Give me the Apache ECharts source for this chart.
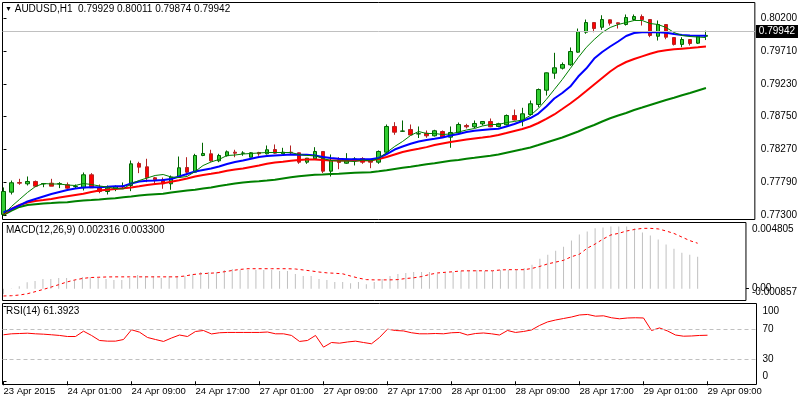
<!DOCTYPE html>
<html><head><meta charset="utf-8">
<script src="https://cdn.jsdelivr.net/npm/echarts@6/dist/echarts.min.js"></script>
<style>html,body{margin:0;padding:0;background:#fff}#c{width:800px;height:400px}</style>
</head><body><div id="c"></div>
<script>
// ---------- data ----------
const symbolName = 'AUDUSD,H1';
const tickBars = [0, 8, 16, 24, 32, 40, 48, 56, 64, 72, 80, 88];
const tickLabels = ['23 Apr 2015', '24 Apr 01:00', '24 Apr 09:00', '24 Apr 17:00', '27 Apr 01:00', '27 Apr 09:00',
  '27 Apr 17:00', '28 Apr 01:00', '28 Apr 09:00', '28 Apr 17:00', '29 Apr 01:00', '29 Apr 09:00'];

const open = [0.77315,0.77642,0.77784,0.77765,0.77799,0.77762,0.77774,0.77762,0.7775,0.77723,
  0.77706,0.77897,0.77706,0.77652,0.77692,0.77728,0.7774,0.78063,0.78014,0.77853,
  0.77824,0.77765,0.77862,0.78004,0.77935,0.7818,0.78205,0.78102,0.78176,0.78229,
  0.78212,0.78155,0.78224,0.78205,0.78268,0.78205,0.78229,0.7822,0.78082,0.78132,
  0.78239,0.7795,0.78117,0.78067,0.78124,0.78136,0.78107,0.78082,0.78229,0.78606,
  0.78535,0.78562,0.78496,0.78507,0.78469,0.78532,0.78449,0.78513,0.7862,0.78601,
  0.78645,0.78679,0.78606,0.78631,0.78767,0.78689,0.78782,0.78928,0.79138,0.79388,
  0.79461,0.79511,0.79696,0.79989,0.80131,0.80062,0.80171,0.80127,0.80102,0.80175,
  0.80219,0.80175,0.7993,0.80102,0.79911,0.7981,0.79882,0.79828,0.79929];
const high = [0.77711,0.77813,0.77838,0.77872,0.77813,0.77774,0.77838,0.77789,0.77784,0.77755,
  0.77931,0.77921,0.77755,0.7774,0.7774,0.77784,0.78107,0.78088,0.78132,0.77865,
  0.77857,0.77887,0.78165,0.78155,0.78205,0.78367,0.78264,0.78205,0.78254,0.78264,
  0.78243,0.78229,0.78234,0.78327,0.78342,0.78293,0.78327,0.78224,0.78144,0.78302,
  0.78239,0.78195,0.78155,0.78214,0.78155,0.78155,0.78132,0.78254,0.78635,0.78669,
  0.78694,0.78635,0.78606,0.78547,0.78557,0.78547,0.78606,0.78664,0.78645,0.78694,
  0.78684,0.78723,0.7866,0.78782,0.78855,0.7888,0.78987,0.79163,0.79398,0.79687,
  0.79545,0.79765,0.80043,0.80175,0.80139,0.80238,0.80175,0.80131,0.80249,0.80249,
  0.80249,0.80183,0.80161,0.80109,0.79918,0.79916,0.79889,0.79945,0.80011];
const low = [0.77295,0.77608,0.7775,0.7774,0.77715,0.77715,0.7773,0.77701,0.77692,0.77692,
  0.77667,0.77706,0.77627,0.77608,0.77657,0.77701,0.77657,0.77921,0.77789,0.77765,
  0.77692,0.77677,0.7785,0.77887,0.77926,0.7817,0.78088,0.78082,0.78165,0.78155,
  0.78176,0.78155,0.78176,0.78195,0.78205,0.78195,0.78195,0.78058,0.78058,0.78132,
  0.77921,0.77872,0.77979,0.78058,0.78034,0.78058,0.77994,0.78058,0.78205,0.78484,
  0.78525,0.78481,0.78437,0.7844,0.78459,0.7844,0.78293,0.78503,0.78576,0.78581,
  0.7862,0.78595,0.78595,0.7862,0.78694,0.7861,0.78767,0.78889,0.7906,0.79305,
  0.79442,0.79496,0.79687,0.79966,0.79989,0.80024,0.80087,0.80043,0.80087,0.80161,
  0.80087,0.79916,0.79867,0.79886,0.79794,0.79769,0.79794,0.79816,0.79874];
const close = [0.77652,0.7778,0.77774,0.77799,0.7773,0.77769,0.7773,0.77767,0.77701,0.77728,
  0.77897,0.77706,0.77652,0.77701,0.77721,0.77733,0.78058,0.78009,0.77853,0.77824,
  0.77765,0.77862,0.78,0.77935,0.7818,0.7821,0.78102,0.7818,0.78234,0.78214,
  0.78217,0.7822,0.78205,0.78264,0.78214,0.78229,0.7822,0.78082,0.78141,0.78239,
  0.7795,0.78107,0.78078,0.78126,0.78129,0.78082,0.78082,0.78239,0.78606,0.78522,
  0.7854,0.78481,0.785,0.78469,0.78543,0.78449,0.78518,0.78635,0.78601,0.7865,
  0.78679,0.78601,0.78647,0.78767,0.78701,0.78792,0.78939,0.79148,0.79393,0.79467,
  0.79515,0.79706,0.79999,0.80131,0.80043,0.80175,0.80121,0.80112,0.80205,0.80219,
  0.80171,0.79941,0.80102,0.79916,0.7981,0.79882,0.79823,0.7993,0.79942];

const maFast = [0.77315,0.77432,0.77535,0.77637,0.77725,0.77769,0.77762,0.77762,0.77747,0.7774,
  0.77769,0.77755,0.77733,0.77718,0.77696,0.77689,0.77769,0.77813,0.7785,0.77887,
  0.77901,0.77865,0.77857,0.77872,0.77945,0.78033,0.78085,0.78122,0.7818,0.78187,
  0.78202,0.7821,0.78217,0.78224,0.78224,0.78224,0.78224,0.78195,0.7818,0.7818,
  0.78136,0.78107,0.781,0.781,0.78092,0.78114,0.781,0.78136,0.78224,0.78312,
  0.78386,0.78474,0.78532,0.78503,0.78503,0.78488,0.78496,0.78525,0.78554,0.78576,
  0.78613,0.78635,0.78635,0.78664,0.78679,0.78701,0.78767,0.7887,0.79002,0.79148,
  0.79295,0.79456,0.79618,0.79765,0.79882,0.79985,0.80058,0.80102,0.80131,0.80161,
  0.80161,0.80117,0.80102,0.80058,0.79985,0.79941,0.79926,0.79918,0.79911];
const maBlue = [0.77344,0.77395,0.77447,0.77505,0.77542,0.77579,0.77615,0.77645,0.77674,0.77696,
  0.77711,0.77715,0.77715,0.77721,0.77728,0.7773,0.77769,0.77799,0.7781,0.77813,
  0.77821,0.77835,0.77872,0.77909,0.77945,0.77967,0.77989,0.78019,0.78055,0.78085,
  0.78107,0.78133,0.78158,0.78173,0.7818,0.78187,0.78195,0.7819,0.7819,0.7818,
  0.78158,0.78144,0.78132,0.78126,0.78126,0.78126,0.78126,0.78144,0.78202,0.78268,
  0.78312,0.78352,0.78386,0.78408,0.78425,0.78444,0.78474,0.78496,0.78525,0.78543,
  0.78554,0.78565,0.78572,0.78606,0.78642,0.78686,0.7873,0.78796,0.78899,0.79016,
  0.79097,0.79192,0.79339,0.79456,0.79603,0.79699,0.79779,0.79853,0.79933,0.79977,
  0.79989,0.79989,0.79989,0.7998,0.79963,0.79948,0.79941,0.79936,0.79936];
const maRed = [0.77325,0.77395,0.77454,0.77491,0.77513,0.77527,0.77542,0.77564,0.77583,0.77601,
  0.77618,0.77645,0.77667,0.77677,0.77689,0.777,0.77711,0.77728,0.77747,0.77762,
  0.77774,0.77794,0.77816,0.77843,0.77872,0.77894,0.77912,0.77931,0.77956,0.77975,
  0.77989,0.78011,0.78033,0.78058,0.78078,0.78089,0.78102,0.78114,0.78122,0.78122,
  0.78114,0.78107,0.78107,0.78107,0.78107,0.78107,0.7811,0.78129,0.78158,0.78195,
  0.78232,0.78256,0.78278,0.78303,0.78334,0.78356,0.78378,0.78397,0.78415,0.7843,
  0.78444,0.78459,0.78481,0.7851,0.7854,0.78569,0.78606,0.78657,0.78716,0.78782,
  0.78862,0.78943,0.79031,0.79126,0.79222,0.79317,0.79412,0.79493,0.79552,0.79596,
  0.79635,0.79674,0.79706,0.79725,0.79738,0.79747,0.79756,0.79767,0.79779];
const maSlow = [0.7731,0.77373,0.77425,0.77454,0.77466,0.77476,0.77483,0.77491,0.77495,0.77508,
  0.7752,0.77527,0.77535,0.77545,0.77554,0.77567,0.77579,0.77593,0.77604,0.77611,
  0.77618,0.77637,0.77652,0.77667,0.77677,0.77696,0.77711,0.77733,0.7775,0.77769,
  0.77784,0.77794,0.77803,0.77813,0.77824,0.77843,0.7786,0.77877,0.77887,0.77897,
  0.77901,0.77909,0.77912,0.77919,0.77926,0.77931,0.77935,0.77948,0.77963,0.77982,
  0.78,0.78016,0.78033,0.78051,0.78066,0.78085,0.78102,0.78114,0.78132,0.78146,
  0.78161,0.78176,0.78195,0.78221,0.78246,0.78271,0.78298,0.78334,0.78371,0.78408,
  0.78444,0.78488,0.78532,0.78584,0.78628,0.78679,0.78727,0.78767,0.78804,0.78848,
  0.78884,0.78921,0.78958,0.78994,0.79027,0.79063,0.79097,0.79134,0.7917];

const macdMain = [-0.00041,0.00001,0.00018,0.00046,0.00055,0.0007,0.0007,0.00077,0.00077,0.00063,
  0.00085,0.00085,0.00077,0.0007,0.00063,0.00063,0.00077,0.00099,0.00092,0.00092,
  0.00077,0.00092,0.00092,0.00092,0.00107,0.00121,0.00121,0.00121,0.00136,0.00143,
  0.00136,0.00136,0.00136,0.00136,0.00136,0.00129,0.00129,0.00107,0.00092,0.00092,
  0.0007,0.00063,0.00048,0.00048,0.0004,0.00048,0.00033,0.00048,0.0007,0.00092,
  0.00107,0.00114,0.00121,0.00121,0.00121,0.00107,0.00114,0.00121,0.00129,0.00129,
  0.00136,0.00129,0.00129,0.00136,0.00136,0.00136,0.00151,0.00173,0.00217,0.00246,
  0.00276,0.00305,0.00349,0.00393,0.00415,0.00438,0.00445,0.00452,0.00452,0.00452,
  0.00438,0.00408,0.00386,0.00357,0.0032,0.0029,0.00261,0.00246,0.002316];
const macdSignal = [-0.00053,-0.00051,-0.00046,-0.00037,-0.00022,-0.00006,0.00011,0.00029,0.00048,0.00063,
  0.00074,0.00081,0.00083,0.00085,0.00086,0.00086,0.00086,0.00086,0.00086,0.00086,
  0.00086,0.00086,0.00086,0.00092,0.00103,0.00108,0.00112,0.00115,0.00123,0.00132,
  0.0014,0.00145,0.00145,0.00145,0.00145,0.00145,0.00145,0.00143,0.00136,0.00129,
  0.00121,0.00115,0.00112,0.00108,0.00092,0.00077,0.00066,0.00064,0.00064,0.00064,
  0.00066,0.00074,0.00079,0.00088,0.00103,0.00114,0.00119,0.00123,0.00129,0.0013,
  0.0013,0.0013,0.0013,0.00136,0.00138,0.00138,0.00138,0.00147,0.00162,0.0018,
  0.00193,0.00206,0.00232,0.0025,0.00294,0.00324,0.0036,0.0039,0.00402,0.00419,
  0.0043,0.00438,0.00438,0.00434,0.00419,0.00401,0.00375,0.00349,0.0033];

const rsi = [62.0,63.3,63.7,64.1,63.3,62.8,62.0,61.1,59.7,59.7,
  66.8,61.1,54.4,53.5,53.5,55.7,68.7,65.5,58.4,55.7,
  53.1,57.7,61.7,59.7,66.4,67.7,63.1,64.7,65.1,65.1,
  65.1,65.1,65.1,65.7,63.3,63.3,61.1,53.1,54.4,61.1,
  45.5,51.7,50.8,52.4,53.5,51.7,50.0,58.4,69.5,67.7,
  67.1,64.7,63.3,63.3,63.7,63.3,64.7,65.1,61.7,63.7,
  64.4,63.3,61.7,67.7,65.1,66.4,68.4,74.4,79.1,81.7,
  83.7,85.7,88.4,89.1,86.8,87.3,84.7,83.3,84.4,84.7,
  84.4,67.7,71.1,67.1,61.7,60.1,60.4,61.1,61.3923];

const priceTicks = [0.77300, 0.77790, 0.78270, 0.78750, 0.79230, 0.79710, 0.80200];
const macdRangeTicks = [0.004805, -0.000857];
const macdZeroTicks = [0];
const rsiTicks = [100, 70, 30, 0];
const rsiLevels = [70, 30];

// ---------- chart ----------
const FONT = '"Liberation Sans", Arial, sans-serif';
const last = close.length - 1;
const X_MIN = -0.125, X_MAX = 94.125;
const txt = {fontFamily: FONT, fontSize: 10, color: '#000', fontWeight: 'normal'};

function xAxis(gi, withLabels) {
  return {
    type: 'value', gridIndex: gi, min: X_MIN, max: X_MAX,
    axisLine: {show: false}, splitLine: {show: false},
    axisTick: withLabels ? {show: true, customValues: tickBars, length: 4, lineStyle: {color: '#000'}} : {show: false},
    axisLabel: withLabels ? Object.assign({show: true, customValues: tickBars, align: 'left', margin: 2,
      showMinLabel: true, showMaxLabel: true, hideOverlap: false,
      formatter: v => tickLabels[tickBars.indexOf(v)]}, txt, {fontSize: 9.5}) : {show: false}
  };
}
function yBase(gi, min, max, ticks, fmt, rich) {
  return {
    type: 'value', gridIndex: gi, position: 'right', min: min, max: max, scale: true,
    axisLine: {show: false}, splitLine: {show: false},
    axisTick: {show: true, customValues: ticks, length: 3, lineStyle: {color: '#000'}},
    axisLabel: Object.assign({show: true, customValues: ticks, margin: 6, formatter: fmt, rich: rich || {},
      showMinLabel: true, showMaxLabel: true, hideOverlap: false}, txt)
  };
}
const idx = close.map((_, i) => i);
const pts = arr => arr.map((v, i) => [idx[i], v]);

const option = {
  animation: false,
  backgroundColor: '#fff',
  title: [
    {left: 5, top: 4, padding: 0,
     text: '{tri|▼} ' + symbolName + '  ' + [open[last], high[last], low[last], close[last]].map(v => v.toFixed(5)).join(' '),
     textStyle: Object.assign({rich: {tri: {fontSize: 7, fontFamily: FONT, color: '#000'}}}, txt)},
    {left: 6, top: 225, padding: 0,
     text: 'MACD(12,26,9) ' + macdMain[last].toFixed(6) + ' ' + macdSignal[last].toFixed(6), textStyle: txt},
    {left: 6, top: 306, padding: 0, text: 'RSI(14) ' + rsi[last].toFixed(4), textStyle: txt}
  ],
  grid: [
    {left: 2.5, top: 2.5, width: 754, height: 217, show: true, borderColor: '#000', borderWidth: 1, backgroundColor: 'transparent'},
    {left: 2.5, top: 222.5, width: 754, height: 78, show: true, borderColor: '#000', borderWidth: 1, backgroundColor: 'transparent'},
    {left: 2.5, top: 303.5, width: 754, height: 81, show: true, borderColor: '#000', borderWidth: 1, backgroundColor: 'transparent'}
  ],
  xAxis: [xAxis(0, false), xAxis(1, false), xAxis(2, true)],
  yAxis: [
    yBase(0, 0.77241, 0.80425, priceTicks, v => v.toFixed(5)),
    yBase(1, -0.000857, 0.004805, macdRangeTicks,
      v => v > 0 ? '{t|' + v.toFixed(6) + '}' : '{b|' + v.toFixed(6) + '}',
      {t: {padding: [14, 0, 0, 0]}, b: {padding: [0, 0, 16, 0]}}),
    yBase(2, -4.3, 103.7, rsiTicks,
      v => v === 100 ? '{t|100}' : (v === 0 ? '{b|0}' : '{m|' + v + '}'),
      {t: {padding: [10, 0, 0, 0]}, m: {}, b: {padding: [0, 0, 10, 0]}}),
    yBase(1, -0.000857, 0.004805, macdZeroTicks, v => v.toFixed(2))
  ],
  series: [
    {type: 'candlestick', xAxisIndex: 0, yAxisIndex: 0, barWidth: 4, z: 2,
     data: idx.map(i => [i, open[i], close[i], low[i], high[i]]),
     itemStyle: {color: '#32CD32', color0: '#FF0000', borderColor: '#006400', borderColor0: '#B22222', borderWidth: 1},
     markLine: {silent: true, symbol: ['none', 'none'], animation: false,
       lineStyle: {color: '#C0C0C0', width: 1, type: 'solid'},
       label: Object.assign({show: true, position: 'end', distance: 1, formatter: close[last].toFixed(5),
         backgroundColor: '#000', padding: [2, 3, 1, 3]}, txt, {color: '#fff'}),
       data: [{yAxis: close[last]}]}},
    {type: 'line', xAxisIndex: 0, yAxisIndex: 0, data: pts(maSlow), showSymbol: false, z: 3,
     lineStyle: {color: '#008000', width: 2}},
    {type: 'line', xAxisIndex: 0, yAxisIndex: 0, data: pts(maRed), showSymbol: false, z: 3,
     lineStyle: {color: '#FF0000', width: 2}},
    {type: 'line', xAxisIndex: 0, yAxisIndex: 0, data: pts(maBlue), showSymbol: false, z: 3,
     lineStyle: {color: '#0000FF', width: 2}},
    {type: 'line', xAxisIndex: 0, yAxisIndex: 0, data: pts(maFast), showSymbol: false, z: 4,
     lineStyle: {color: '#008000', width: 1}},
    {type: 'bar', xAxisIndex: 1, yAxisIndex: 1, data: pts(macdMain), barWidth: 1,
     itemStyle: {color: '#C0C0C0'}},
    {type: 'line', xAxisIndex: 1, yAxisIndex: 1, data: pts(macdSignal), showSymbol: false, z: 3,
     lineStyle: {color: '#FF0000', width: 1, type: [3, 3]}},
    {type: 'line', xAxisIndex: 2, yAxisIndex: 2, data: pts(rsi), showSymbol: false,
     lineStyle: {color: '#FF0000', width: 1},
     markLine: {silent: true, symbol: ['none', 'none'], animation: false, label: {show: false},
       lineStyle: {color: '#C0C0C0', width: 1, type: [4, 3]},
       data: rsiLevels.map(l => ({yAxis: l}))}}
  ]
};
const chart = echarts.init(document.getElementById('c'), null, {renderer: 'canvas'});
chart.setOption(option);
</script>
</body></html>
